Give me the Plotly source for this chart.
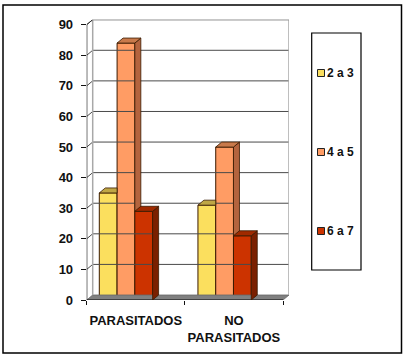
import plotly.graph_objects as go

categories = ["PARASITADOS", "NO<br>PARASITADOS"]
series_names = ["2 a 3", "4 a 5", "6 a 7"]
values_2a3 = [35, 31]
values_4a5 = [84, 50]
values_6a7 = [29, 21]
all_values = [values_2a3, values_4a5, values_6a7]
group_centers = [0.40, 1.405]
y_ticks = list(range(0, 100, 10))

front = ["#FBDF5E", "#FF9C64", "#CC3300"]
side = ["#8F7A2E", "#B4643E", "#7A2000"]
top = ["#BFA645", "#C97A4B", "#A02A00"]
edge = "#3A1A00"

W, H = 409, 362
X0, X1, Y0, Y90 = 86.7, 283.0, 300.0, 24.7
DXP, DYP = 6.0, 5.0
ppx = (X1 - X0) / 2
ppy = (Y0 - Y90) / 90
dx, dy = DXP / ppx, DYP / ppy
bar_w = 0.181

fig = go.Figure()


def poly(xs, ys, fill, line=edge, width=0.8):
    fig.add_trace(go.Scatter(x=xs, y=ys, mode="lines", fill="toself", fillcolor=fill,
                             line=dict(color=line, width=width), hoverinfo="skip", showlegend=False))


def seg(xs, ys, color, width=1):
    fig.add_trace(go.Scatter(x=xs, y=ys, mode="lines", line=dict(color=color, width=width),
                             hoverinfo="skip", showlegend=False))


for i, (name, vals) in enumerate(zip(series_names, all_values)):
    fig.add_trace(go.Bar(x=group_centers, y=vals, name=name, width=bar_w,
                         offset=(i - 1.5) * bar_w,
                         marker=dict(color=front[i], line=dict(color=edge, width=1)),
                         showlegend=False))

# floor and back wall
poly([0, 2, 2 + dx, dx, 0], [0, 0, dy, dy, 0], "#808080", "#666666")
for v in y_ticks[1:]:
    seg([0, dx, 2 + dx], [v, v + dy, v + dy], "#4A4A4A")
seg([dx, dx], [dy, 90 + dy], "#A8A8A8", 1.5)
seg([2 + dx, 2 + dx], [dy, 90 + dy], "#A8A8A8", 1.5)
seg([dx, 2 + dx], [90 + dy, 90 + dy], "#808080", 1)
seg([0, dx], [90, 90 + dy], "#333333", 1)
seg([0, 0], [0, 90], "#111111", 1.2)
seg([0, 2], [0, 0], "#111111", 1)

# depth faces, trimmed where the next bar's front covers them
for g, c in enumerate(group_centers):
    for i in range(3):
        v = all_values[i][g]
        l = c + (i - 1.5) * bar_w
        r = l + bar_w
        nxt = all_values[i + 1][g] if i < 2 else 0
        if v > nxt:
            poly([r, r, r + dx, r + dx, r], [nxt, v, v + dy, max(nxt, dy), nxt], side[i])
        xr = r + dx if v > nxt else r
        poly([l, r, xr, l + dx, l], [v, v, v + dy, v + dy, v], top[i])

fig.update_layout(
    width=W, height=H, autosize=False, margin=dict(l=0, r=0, t=0, b=0, autoexpand=False),
    paper_bgcolor="white", plot_bgcolor="rgba(0,0,0,0)", barmode="overlay", showlegend=False,
    font=dict(family="Liberation Sans", color="#111111"),
    xaxis=dict(domain=[X0 / W, (X1 + DXP) / W], range=[0, 2 + dx], showgrid=False, zeroline=False,
               showline=False, tickmode="array", tickvals=[0.5, 1.5], ticktext=categories,
               ticks="", tickangle=0, tickfont=dict(size=13, family="Liberation Sans", weight="bold"),
               ticklabelstandoff=11,
               minor=dict(ticks="outside", tickmode="array", tickvals=[0, 1, 2], ticklen=4,
                          tickcolor="#111111", tickwidth=1, showgrid=False)),
    yaxis=dict(domain=[(H - Y0) / H, (H - Y90 + DYP) / H], range=[0, 90 + dy], showgrid=False,
               zeroline=False, showline=False, tickmode="array", tickvals=y_ticks,
               ticks="outside", ticklen=5, tickcolor="#111111", tickwidth=1, ticklabelstandoff=5,
               tickfont=dict(size=13, family="Liberation Sans", weight="bold")),
    shapes=[
        dict(type="rect", xref="paper", yref="paper", x0=3 / W, x1=401.5 / W, y0=1 - 353 / H, y1=1 - 5 / H,
             line=dict(color="black", width=1.5), layer="below"),
        dict(type="rect", xref="paper", yref="paper", x0=311.7 / W, x1=361 / W, y0=1 - 270 / H, y1=1 - 33 / H,
             line=dict(color="black", width=1.2), layer="below"),
    ],
)

for i, (name, py) in enumerate(zip(series_names, [73, 152, 231])):
    fig.add_shape(type="rect", xref="paper", yref="paper", x0=317.5 / W, x1=324.5 / W,
                  y0=1 - (py + 3.5) / H, y1=1 - (py - 3.5) / H,
                  fillcolor=front[i], line=dict(color="#222222", width=1))
    fig.add_annotation(xref="paper", yref="paper", x=325.3 / W, y=1 - py / H, text="<b>%s</b>" % name,
                       showarrow=False, xanchor="left", yanchor="middle",
                       font=dict(size=12, family="Liberation Sans", color="#111111"))

fig.write_html("out.html", post_script="document.body.style.margin='0';",
               config={"displayModeBar": False})
